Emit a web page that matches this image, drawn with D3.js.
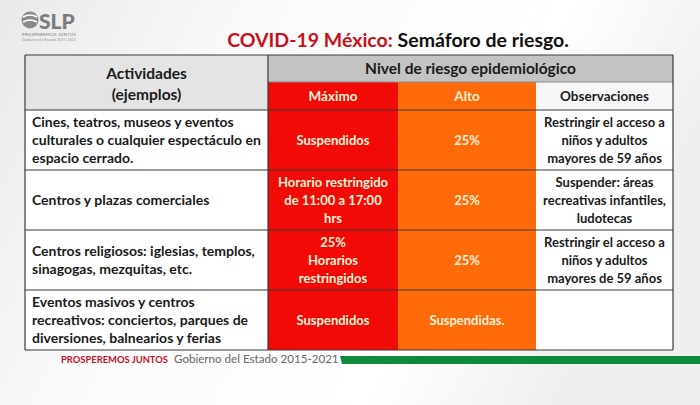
<!DOCTYPE html>
<html>
<head>
<meta charset="utf-8">
<script src="https://cdn.jsdelivr.net/npm/d3@7"></script>
<style>
  body { margin: 0; background: #fff; }
  svg { display: block; }
</style>
</head>
<body>
<div id="wrapper"></div>
<script>
// table content
const titleParts = ["COVID-19 México:", " Semáforo de riesgo."];
const headActividades = ["Actividades", "(ejemplos)"];
const headNivel = "Nivel de riesgo epidemiológico";
const levelHeads = ["Máximo", "Alto", "Observaciones"];
const actividades = [
  ["Cines, teatros, museos y eventos", "culturales o cualquier espectáculo en", "espacio cerrado."],
  ["Centros y plazas comerciales"],
  ["Centros religiosos: iglesias, templos,", "sinagogas, mezquitas, etc."],
  ["Eventos masivos y centros", "recreativos: conciertos, parques de", "diversiones, balnearios y ferias"]
];
const maximo = [
  ["Suspendidos"],
  ["Horario restringido", "de 11:00 a 17:00", "hrs"],
  ["25%", "Horarios", "restringidos"],
  ["Suspendidos"]
];
const alto = [["25%"], ["25%"], ["25%"], ["Suspendidas."]];
const observaciones = [
  ["Restringir el acceso a", "niños y adultos", "mayores de 59 años"],
  ["Suspender: áreas", "recreativas infantiles,", "ludotecas"],
  ["Restringir el acceso a", "niños y adultos", "mayores de 59 años"],
  []
];
const footerParts = ["PROSPEREMOS JUNTOS", "Gobierno del Estado 2015-2021"];

let dimensions = {
  width: 700,
  height: 405,
  table: { left: 25, top: 55, head1: 27, head2: 28, bottom: 350 },
  colWidths: [243, 130, 138, 137]
}

const font = "Lato, 'Open Sans', sans-serif";
const red = "#f20a06";
const orange = "#ff6a0a";
const cream = "#fff2d6";
const ink = "#1a1a1a";

let wrapper = d3.select("#wrapper").append("svg")
  .attr("width", dimensions.width)
  .attr("height", dimensions.height);

// background wash
let defs = wrapper.append("defs");
let grad = defs.append("linearGradient").attr("id", "bg").attr("x1", 0).attr("y1", 0).attr("x2", 1).attr("y2", 0.3);
grad.append("stop").attr("offset", "0%").attr("stop-color", "#e9e9e9");
grad.append("stop").attr("offset", "35%").attr("stop-color", "#fafafa");
grad.append("stop").attr("offset", "75%").attr("stop-color", "#ffffff");
grad.append("stop").attr("offset", "100%").attr("stop-color", "#efefef");
wrapper.append("rect").attr("width", dimensions.width).attr("height", dimensions.height).attr("fill", "url(#bg)");

// logo
let logo = wrapper.append("g").attr("transform", "translate(21,9)");
logo.append("circle").attr("cx", 9).attr("cy", 11).attr("r", 8.5).attr("fill", "#8a8a8a");
logo.append("path").attr("d", "M2,8 Q9,4 16,8 M2,13 Q9,9 16,13").attr("stroke", "#fff").attr("stroke-width", 1.6).attr("fill", "none");
logo.append("text").attr("x", 18).attr("y", 20).text("SLP")
  .style("font-family", font).style("font-weight", 900).style("font-size", "21px").attr("fill", "#7c7c7c");
logo.append("text").attr("x", 1).attr("y", 26.5).attr("textLength", 54).text("PROSPEREMOS JUNTOS")
  .style("font-family", font).style("font-size", "4.4px").attr("fill", "#777");
logo.append("text").attr("x", 1).attr("y", 31.5).attr("textLength", 54).text("Gobierno del Estado 2015-2021")
  .style("font-family", font).style("font-size", "3.8px").attr("fill", "#999");

// title
let title = wrapper.append("text").attr("x", 398).attr("y", 47).attr("text-anchor", "middle")
  .style("font-family", font).style("font-weight", 700).style("font-size", "19.5px");
title.append("tspan").attr("fill", "#c8101a").text(titleParts[0]);
title.append("tspan").attr("fill", "#111").text(titleParts[1]);

// column edges
let colEdges = [dimensions.table.left];
dimensions.colWidths.forEach(w => colEdges.push(colEdges[colEdges.length - 1] + w));
const right = colEdges[colEdges.length - 1];
const t = dimensions.table;
const bodyTop = t.top + t.head1 + t.head2;

let yScale = d3.scaleBand()
  .domain(d3.range(actividades.length))
  .range([bodyTop, t.bottom]);

let table = wrapper.append("g");

// header cells
table.append("rect").attr("x", colEdges[0]).attr("y", t.top).attr("width", colEdges[1] - colEdges[0]).attr("height", t.head1 + t.head2).attr("fill", "#e4e4e4");
table.append("rect").attr("x", colEdges[1]).attr("y", t.top).attr("width", right - colEdges[1]).attr("height", t.head1).attr("fill", "#c3c3c3");
const levelFills = [red, orange, "#f7f7f7"];
table.selectAll("rect.lvl").data(levelHeads).enter().append("rect")
  .attr("class", "lvl")
  .attr("x", (d, i) => colEdges[i + 1])
  .attr("y", t.top + t.head1)
  .attr("width", (d, i) => colEdges[i + 2] - colEdges[i + 1])
  .attr("height", t.head2)
  .attr("fill", (d, i) => levelFills[i]);

// body cells
const rows = actividades.map((a, i) => ({ cells: [a, maximo[i], alto[i], observaciones[i]], i }));
const cellFills = ["#ffffff", red, orange, "#ffffff"];
rows.forEach(r => {
  table.selectAll(null).data(r.cells).enter().append("rect")
    .attr("x", (d, c) => colEdges[c])
    .attr("y", yScale(r.i))
    .attr("width", (d, c) => colEdges[c + 1] - colEdges[c])
    .attr("height", yScale.bandwidth())
    .attr("fill", (d, c) => cellFills[c]);
});

// grid lines
const lineColor = "#3a3a3a";
const hLines = [t.top, t.top + t.head1, bodyTop].concat(d3.range(1, actividades.length + 1).map(i => yScale(i - 1) + yScale.bandwidth()));
table.selectAll("line.h").data(hLines).enter().append("line")
  .attr("x1", (d, i) => i === 1 ? colEdges[1] : colEdges[0])
  .attr("x2", right)
  .attr("y1", d => d).attr("y2", d => d)
  .attr("stroke", (d, i) => i === 1 ? "#8a8a8a" : lineColor).attr("stroke-width", 1.2);
table.selectAll("line.v").data([colEdges[0], colEdges[1], right]).enter().append("line")
  .attr("x1", d => d).attr("x2", d => d)
  .attr("y1", t.top).attr("y2", t.bottom)
  .attr("stroke", lineColor).attr("stroke-width", 1.2);

// header text
table.selectAll("text.ha").data(headActividades).enter().append("text")
  .attr("x", (colEdges[0] + colEdges[1]) / 2)
  .attr("y", (d, i) => t.top + 24 + i * 21)
  .attr("text-anchor", "middle")
  .style("font-family", font).style("font-weight", 700).style("font-size", "15.5px")
  .attr("fill", ink).text(d => d);
table.append("text")
  .attr("x", (colEdges[1] + right) / 2).attr("y", t.top + 19)
  .attr("text-anchor", "middle")
  .style("font-family", font).style("font-weight", 700).style("font-size", "15.5px")
  .attr("fill", ink).text(headNivel);
table.selectAll("text.lh").data(levelHeads).enter().append("text")
  .attr("x", (d, i) => (colEdges[i + 1] + colEdges[i + 2]) / 2)
  .attr("y", t.top + t.head1 + 19)
  .attr("text-anchor", "middle")
  .style("font-family", font).style("font-weight", 700).style("font-size", "13.5px")
  .attr("fill", (d, i) => i < 2 ? cream : ink).text(d => d);

// body text
const lineH = 18;
rows.forEach(r => {
  r.cells.forEach((lines, c) => {
    const cy = yScale(r.i) + yScale.bandwidth() / 2;
    const y0 = cy - (lines.length - 1) * lineH / 2 + 5;
    table.selectAll(null).data(lines).enter().append("text")
      .attr("x", c === 0 ? colEdges[0] + 7 : (colEdges[c] + colEdges[c + 1]) / 2)
      .attr("y", (d, k) => y0 + k * lineH)
      .attr("text-anchor", c === 0 ? "start" : "middle")
      .style("font-family", font).style("font-weight", 700)
      .style("font-size", c === 0 ? "14px" : "13px")
      .attr("fill", (c === 1 || c === 2) ? cream : ink)
      .text(d => d);
  });
});

// footer
wrapper.append("text").attr("x", 61).attr("y", 363)
  .style("font-family", font).style("font-size", "9.4px").style("font-weight", 700)
  .attr("fill", "#c4102a").text(footerParts[0]);
wrapper.append("text").attr("x", 174).attr("y", 363)
  .style("font-family", font).style("font-size", "11.6px")
  .attr("fill", "#666").text(footerParts[1]);
wrapper.append("path")
  .attr("d", `M340,356 L${dimensions.width},356 L${dimensions.width},364 L342,364 Z`)
  .attr("fill", "#0f8a3c");
</script>
</body>
</html>
